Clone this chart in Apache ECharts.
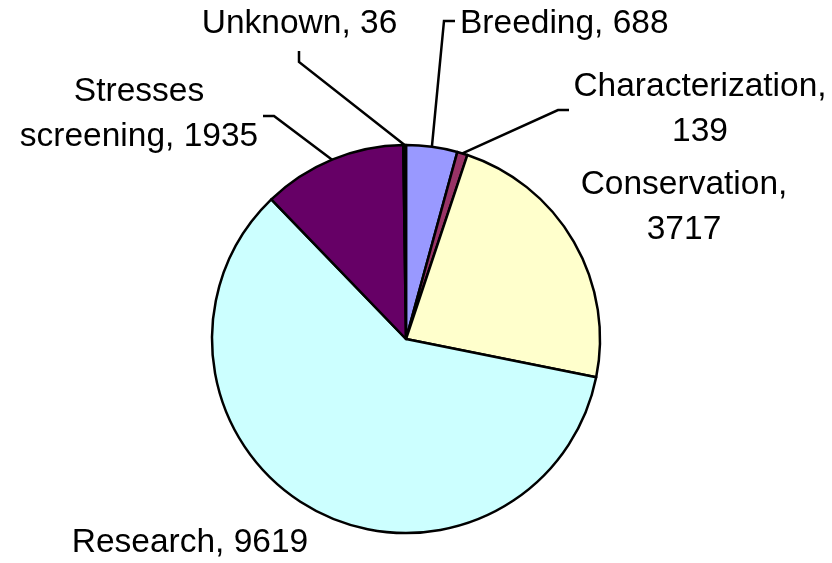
<!DOCTYPE html>
<html><head><meta charset="utf-8">
<script src="https://cdn.jsdelivr.net/npm/echarts@6/dist/echarts.min.js"></script>
<style>html,body{margin:0;padding:0;background:#fff}#c{width:832px;height:563px}</style>
</head><body><div id="c"></div>
<script>
// ---- data ----
const categories = ['Breeding', 'Characterization', 'Conservation', 'Research', 'Stresses screening', 'Unknown'];
const values = [688, 139, 3717, 9619, 1935, 36];
const labelNames = ['Breeding', 'Characterization', 'Conservation', 'Research', 'Stresses\nscreening', 'Unknown'];
const labelSeparators = [' ', '\n', '\n', ' ', ' ', ' '];

// ---- styles / layout ----
const colors = ['#9999FF', '#993366', '#FFFFCC', '#CCFFFF', '#660066', '#000000'];
const showLeader = [true, true, false, false, true, true];
const labelLayouts = [
  {x: 460, y: 23.5, align: 'left', line: [[444, 21], [455, 21]]},
  {x: 700, y: 109, align: 'center', line: [[558, 110], [569, 110]]},
  {x: 684, y: 207, align: 'center'},
  {x: 190, y: 543, align: 'center'},
  {x: 139, y: 114, align: 'center', line: [[274, 116], [263, 116]]},
  {x: 299.5, y: 23.5, align: 'center', line: [[299, 62], [299, 51]]}
];

const chart = echarts.init(document.getElementById('c'), null, {renderer: 'canvas'});
chart.setOption({
  backgroundColor: '#ffffff',
  animation: false,
  series: [{
    type: 'pie',
    center: [406, 339],
    radius: 194,
    startAngle: 90,
    clockwise: true,
    avoidLabelOverlap: false,
    itemStyle: {borderColor: '#000000', borderWidth: 2.5},
    emphasis: {disabled: true},
    label: {
      show: true,
      position: 'outside',
      alignTo: 'none',
      overflow: 'none',
      color: '#000000',
      fontFamily: '"Liberation Sans", Arial, sans-serif',
      fontSize: 33.5,
      lineHeight: 45,
      formatter: function (p) {
        return labelNames[p.dataIndex] + ',' + labelSeparators[p.dataIndex] + p.value;
      }
    },
    labelLine: {show: true, length: 10, length2: 10, smooth: false, lineStyle: {color: '#000000', width: 2.5}},
    labelLayout: function (p) {
      const L = labelLayouts[p.dataIndex];
      const out = {x: L.x, y: L.y, align: L.align, verticalAlign: 'middle', hideOverlap: false};
      if (L.line && p.labelLinePoints) {
        out.labelLinePoints = [p.labelLinePoints[0], L.line[0], L.line[1]];
      }
      return out;
    },
    data: categories.map(function (c, i) {
      return {
        name: c,
        value: values[i],
        itemStyle: {color: colors[i]},
        labelLine: {show: showLeader[i]}
      };
    })
  }]
});
</script>
</body></html>
